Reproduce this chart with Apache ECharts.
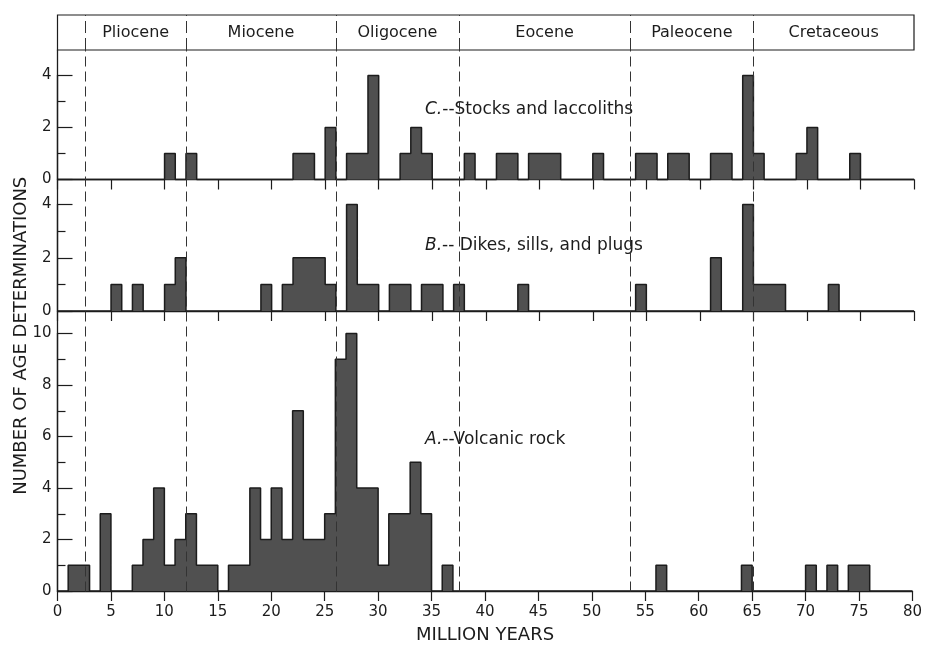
<!DOCTYPE html>
<html>
<head>
<meta charset="utf-8">
<script src="https://cdn.jsdelivr.net/npm/echarts@6/dist/echarts.min.js"></script>
<style>html,body{margin:0;padding:0;background:#fff}#c{width:925px;height:645px}</style>
</head>
<body>
<div id="c"></div>
<script>
// ---- data ----
const epochNames = ['Pliocene', 'Miocene', 'Oligocene', 'Eocene', 'Paleocene', 'Cretaceous'];
const epochBounds = [2.6, 12, 26, 37.5, 53.5, 65, 80];

// [bin start (million years), number of determinations] ; bins are 1 m.y. wide
const stocksBins = [[10,1],[12,1],[22,1],[23,1],[25,2],[27,1],[28,1],[29,4],[32,1],[33,2],[34,1],
  [38,1],[41,1],[42,1],[44,1],[45,1],[46,1],[50,1],[54,1],[55,1],[57,1],[58,1],[61,1],[62,1],
  [64,4],[65,1],[69,1],[70,2],[74,1]];
const dikesBins = [[5,1],[7,1],[10,1],[11,2],[19,1],[21,1],[22,2],[23,2],[24,2],[25,1],[27,4],
  [28,1],[29,1],[31,1],[32,1],[34,1],[35,1],[37,1],[43,1],[54,1],[61,2],[64,4],[65,1],[66,1],
  [67,1],[72,1]];
const volcanicBins = [[1,1],[2,1],[4,3],[7,1],[8,2],[9,4],[10,1],[11,2],[12,3],[13,1],[14,1],
  [16,1],[17,1],[18,4],[19,2],[20,4],[21,2],[22,7],[23,2],[24,2],[25,3],[26,9],[27,10],[28,4],
  [29,4],[30,1],[31,3],[32,3],[33,5],[34,3],[36,1],[56,1],[64,1],[70,1],[72,1],[74,1],[75,1]];

const panelTitles = ['C.', 'B.', 'A.'];
const panelTexts = ['--Stocks and laccoliths', '-- Dikes, sills, and plugs', '--Volcanic rock'];
const xName = 'MILLION YEARS';
const yName = 'NUMBER OF AGE DETERMINATIONS';
const xMax = 80;

// ---- build ----
function toSteps(bins) {
  const m = {};
  bins.forEach(([a, c]) => { m[a] = c; });
  const out = [];
  for (let k = 0; k < xMax; k++) out.push([k, m[k] || 0]);
  out.push([xMax, 0]);
  return out;
}

const FONT = 'DejaVu Sans';
const INK = '#1c1c1c';
const FILL = '#505050';
const L = 57.5, R = 11;

const panels = [
  { top: 75.5, height: 104, max: 4, bins: stocksBins, labels: false },
  { top: 204.5, height: 106.5, max: 4, bins: dikesBins, labels: false },
  { top: 333.5, height: 258, max: 10, bins: volcanicBins, labels: true }
];

const grid = [
  { left: L, right: R, top: 15, height: 35, show: true, borderColor: INK, borderWidth: 1.2, backgroundColor: 'transparent' },
  { left: L, right: R, top: 50, height: 541.5 },
  { left: L, right: R, top: 80, height: 511.5 }
];
panels.forEach(p => grid.push({ left: L, right: R, top: p.top, height: p.height }));

const hiddenX = i => ({ gridIndex: i, type: 'value', min: 0, max: xMax, show: false });
const xAxis = [hiddenX(0), hiddenX(1), hiddenX(2)];
const yAxis = [
  { gridIndex: 0, type: 'value', min: 0, max: 1, show: false },
  { gridIndex: 1, type: 'value', min: 0, max: 1, position: 'right',
    axisLine: { show: true, lineStyle: { color: INK, width: 1.3 } },
    axisTick: { show: false }, axisLabel: { show: false }, splitLine: { show: false } },
  { gridIndex: 2, type: 'value', min: 0, max: 1,
    axisLine: { show: false }, axisTick: { show: false }, axisLabel: { show: false }, splitLine: { show: false },
    name: yName, nameLocation: 'middle', nameGap: 27,
    nameTextStyle: { fontFamily: FONT, fontSize: 18, color: INK } }
];

panels.forEach((p, i) => {
  const gi = i + 3;
  xAxis.push({
    gridIndex: gi, type: 'value', min: 0, max: xMax, interval: 5,
    axisLine: { show: true, lineStyle: { color: INK, width: 1.3 } },
    axisTick: { show: true, length: 10, lineStyle: { color: INK, width: 1.2 } },
    axisLabel: { show: p.labels, fontFamily: FONT, fontSize: 15, color: INK, margin: 14 },
    splitLine: { show: false },
    name: p.labels ? xName : '', nameLocation: 'middle', nameGap: 35,
    nameTextStyle: { fontFamily: FONT, fontSize: 18, color: INK }
  });
  yAxis.push({
    gridIndex: gi, type: 'value', min: 0, max: p.max, interval: 2,
    axisLine: { show: true, lineStyle: { color: INK, width: 1.3 } },
    axisTick: { show: true, inside: true, length: 15, lineStyle: { color: INK, width: 1.2 } },
    minorTick: { show: true, splitNumber: 2, length: 8, lineStyle: { color: INK, width: 1.2 } },
    axisLabel: { fontFamily: FONT, fontSize: 15, color: INK, margin: 6 },
    splitLine: { show: false }, minorSplitLine: { show: false }
  });
});

const epochAreas = epochNames.map((n, i) => [
  { xAxis: epochBounds[i], name: n }, { xAxis: epochBounds[i + 1] }
]);
const dividers = epochBounds.slice(0, -1).map(b => ({ xAxis: b }));

const series = [
  { type: 'line', xAxisIndex: 0, yAxisIndex: 0, data: [[0, 0]], showSymbol: false, lineStyle: { opacity: 0 }, silent: true,
    markArea: { silent: true, itemStyle: { color: 'transparent' },
      label: { show: true, position: 'inside', fontFamily: FONT, fontSize: 16, color: INK },
      data: epochAreas },
    markLine: { silent: true, symbol: ['none', 'none'], label: { show: false },
      lineStyle: { color: '#333', width: 1, type: [12, 5] }, data: dividers } },
  { type: 'line', xAxisIndex: 1, yAxisIndex: 1, data: [[0, 0]], showSymbol: false, lineStyle: { opacity: 0 }, silent: true, z: 1,
    markLine: { silent: true, symbol: ['none', 'none'], label: { show: false },
      lineStyle: { color: '#333', width: 1, type: [10, 5] }, data: dividers } }
];
panels.forEach((p, i) => {
  series.push({
    type: 'line', xAxisIndex: i + 3, yAxisIndex: i + 3, step: 'end', clip: false, z: 3,
    data: toSteps(p.bins), showSymbol: false, symbol: 'none',
    lineStyle: { color: INK, width: 1.5 },
    areaStyle: { color: FILL, opacity: 1 }
  });
});

const textPos = [[425, 110], [425, 246], [425, 440]];
const graphic = panelTitles.map((t, i) => ({
  type: 'text', x: textPos[i][0], y: textPos[i][1], silent: true,
  style: {
    text: '{it|' + t + '}' + panelTexts[i],
    fill: INK, font: '17px "' + FONT + '"', verticalAlign: 'middle',
    rich: { it: { fontStyle: 'italic', fontFamily: FONT, fontSize: 17, fill: INK } }
  }
}));

const chart = echarts.init(document.getElementById('c'), null, { renderer: 'canvas' });
chart.setOption({ animation: false, backgroundColor: '#fff', grid, xAxis, yAxis, series, graphic });
</script>
</body>
</html>
